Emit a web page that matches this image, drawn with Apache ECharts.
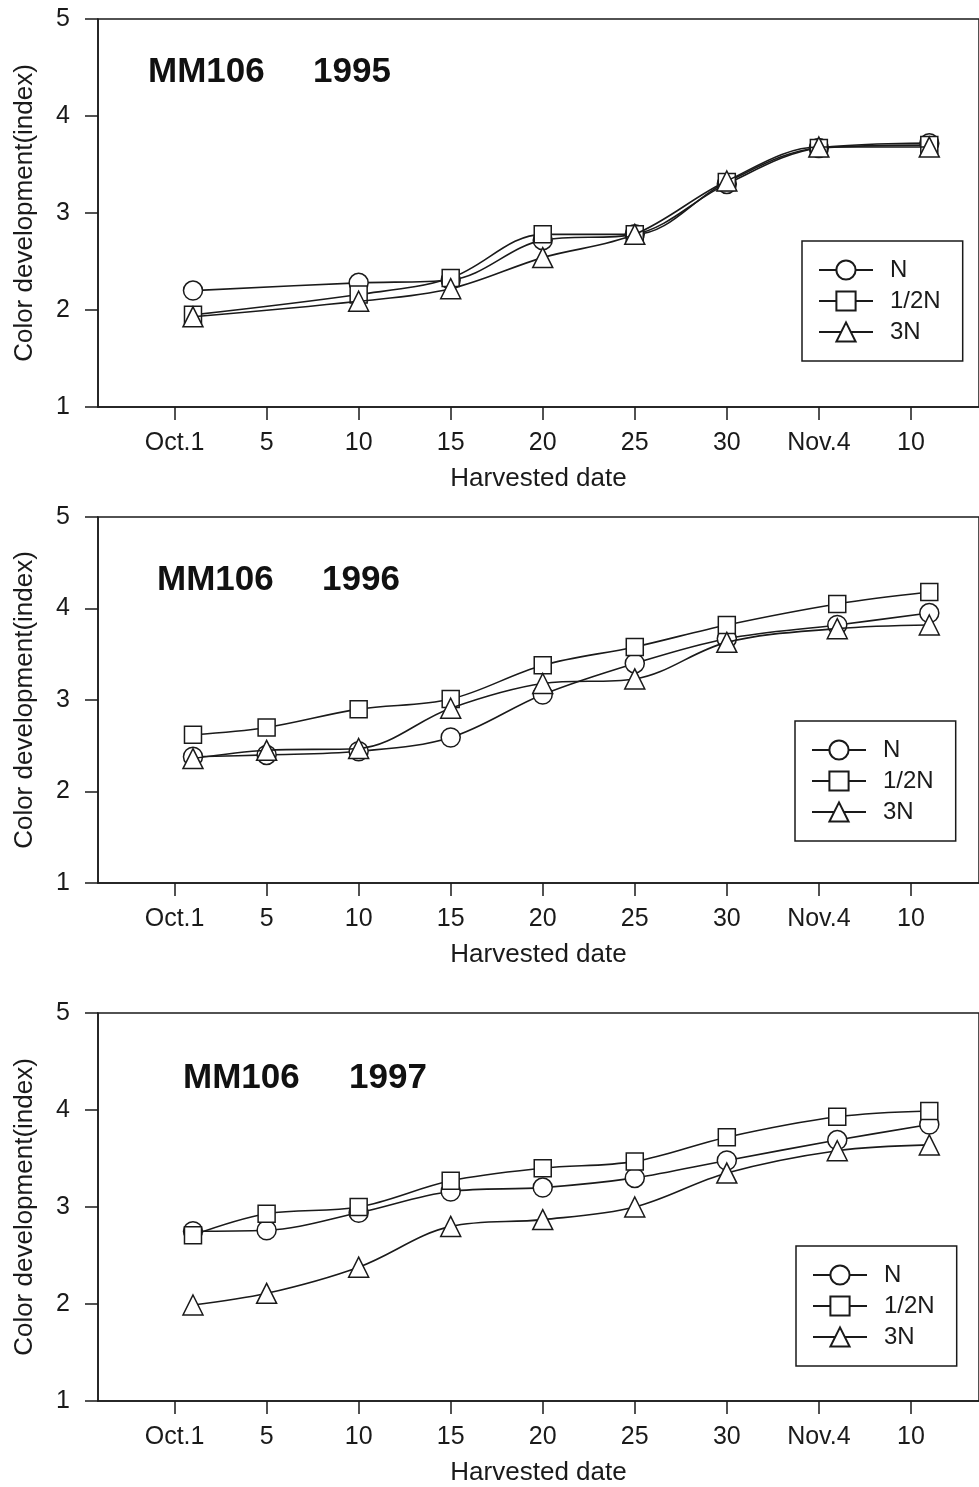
<!DOCTYPE html>
<html>
<head>
<meta charset="utf-8">
<script src="https://cdn.jsdelivr.net/npm/echarts@6.0.0/dist/echarts.min.js"></script>
<style>
html,body{margin:0;padding:0;background:#fff}
#main{width:979px;height:1487px}
</style>
</head>
<body>
<div id="main"></div>
<script>
// x axis: days counted from the "Oct.1" tick, ticks every 5 days
var tickValues = [0, 5, 10, 15, 20, 25, 30, 35, 40];
var tickLabels = ['Oct.1', '5', '10', '15', '20', '25', '30', 'Nov.4', '10'];
var seriesNames = ['N', '1/2N', '3N'];
var seriesSymbols = ['circle', 'rect', 'triangle'];
var symbolSizes = [19, 17, 20];

// 1995
var days95 = [1, 10, 15, 20, 25, 30, 35, 41];
var n95    = [2.20, 2.28, 2.31, 2.72, 2.78, 3.30, 3.67, 3.72];
var half95 = [1.95, 2.16, 2.33, 2.78, 2.78, 3.32, 3.67, 3.70];
var tri95  = [1.93, 2.09, 2.22, 2.54, 2.78, 3.33, 3.68, 3.68];

// 1996
var days96 = [1, 5, 10, 15, 20, 25, 30, 36, 41];
var n96    = [2.38, 2.40, 2.44, 2.59, 3.06, 3.40, 3.67, 3.82, 3.95];
var half96 = [2.62, 2.70, 2.90, 3.01, 3.38, 3.58, 3.82, 4.05, 4.18];
var tri96  = [2.36, 2.45, 2.47, 2.91, 3.18, 3.23, 3.63, 3.78, 3.82];

// 1997
var days97 = [1, 5, 10, 15, 20, 25, 30, 36, 41];
var n97    = [2.75, 2.76, 2.94, 3.16, 3.20, 3.30, 3.48, 3.69, 3.85];
var half97 = [2.71, 2.93, 3.00, 3.27, 3.40, 3.47, 3.72, 3.93, 3.99];
var tri97  = [1.99, 2.11, 2.38, 2.80, 2.87, 3.00, 3.35, 3.58, 3.64];

var panels = [
  {year: '1995', days: days95, vals: [n95, half95, tri95]},
  {year: '1996', days: days96, vals: [n96, half96, tri96]},
  {year: '1997', days: days97, vals: [n97, half97, tri97]}
];

var FONT = '"Liberation Sans", Arial, sans-serif';
var INK = '#1a1a1a';

// layout per panel (pixels)
var gridPos = [
  {top: 19, height: 388, titleTop: 55, mmLeft: 148, yearLeft: 313, legLeft: 802, legTop: 241},
  {top: 517, height: 366, titleTop: 563, mmLeft: 157, yearLeft: 322, legLeft: 795, legTop: 721},
  {top: 1013, height: 392, titleTop: 1061, mmLeft: 183, yearLeft: 349, legLeft: 796, legTop: 1246}
];

function zip(xs, ys) {
  var out = [];
  for (var i = 0; i < xs.length; i++) out.push([xs[i], ys[i]]);
  return out;
}

var grid = [], xAxis = [], yAxis = [], series = [], title = [], legend = [];

panels.forEach(function (p, i) {
  var g = gridPos[i];
  grid.push({
    left: 98, right: -3, top: g.top, height: g.height,
    show: true, borderColor: INK, borderWidth: 1.5, backgroundColor: 'transparent'
  });
  xAxis.push({
    type: 'value', gridIndex: i, min: -4.16, max: 43.7,
    name: 'Harvested date', nameLocation: 'middle', nameGap: 59,
    nameTextStyle: {fontFamily: FONT, fontSize: 26, color: INK},
    axisLine: {show: true, onZero: false, lineStyle: {color: INK, width: 1.5}},
    axisTick: {show: true, inside: false, length: 13, customValues: tickValues,
      lineStyle: {color: INK, width: 1.5}},
    axisLabel: {customValues: tickValues, margin: 24, fontFamily: FONT, fontSize: 25, color: INK,
      formatter: function (v) {
        var k = tickValues.indexOf(v);
        return k >= 0 ? tickLabels[k] : '';
      }},
    splitLine: {show: false}
  });
  yAxis.push({
    type: 'value', gridIndex: i, min: 1, max: 5, interval: 1,
    name: 'Color development(index)', nameLocation: 'middle', nameGap: 60,
    nameTextStyle: {fontFamily: FONT, fontSize: 26, color: INK},
    axisLine: {show: true, onZero: false, lineStyle: {color: INK, width: 1.5}},
    axisTick: {show: true, inside: false, length: 13, lineStyle: {color: INK, width: 1.5}},
    axisLabel: {margin: 28, fontFamily: FONT, fontSize: 25, color: INK},
    splitLine: {show: false}
  });
  title.push({
    text: 'MM106', left: g.mmLeft, top: g.titleTop, padding: 0,
    textStyle: {fontFamily: FONT, fontSize: 35, fontWeight: 'bold', color: '#111'}
  });
  title.push({
    text: p.year, left: g.yearLeft, top: g.titleTop, padding: 0,
    textStyle: {fontFamily: FONT, fontSize: 35, fontWeight: 'bold', color: '#111'}
  });
  legend.push({
    data: seriesNames, orient: 'vertical', left: g.legLeft, top: g.legTop,
    padding: [17, 22, 17, 16], itemWidth: 54, itemHeight: 24, itemGap: 7,
    borderColor: INK, borderWidth: 1.5, backgroundColor: '#fff',
    textStyle: {fontFamily: FONT, fontSize: 24, color: INK, padding: [0, 0, 0, 12]},
    selectedMode: false
  });
  p.vals.forEach(function (vals, k) {
    series.push({
      name: seriesNames[k], type: 'line', xAxisIndex: i, yAxisIndex: i,
      data: zip(p.days, vals),
      smooth: 0.35,
      symbol: seriesSymbols[k], symbolSize: symbolSizes[k],
      lineStyle: {color: INK, width: 1.6},
      itemStyle: {color: '#fff', borderColor: INK, borderWidth: 1.5},
      z: 2 + k,
      animation: false
    });
  });
});

var myChart = echarts.init(document.getElementById('main'));
myChart.setOption({
  backgroundColor: '#fff',
  animation: false,
  title: title,
  legend: legend,
  grid: grid,
  xAxis: xAxis,
  yAxis: yAxis,
  series: series
});
</script>
</body>
</html>
